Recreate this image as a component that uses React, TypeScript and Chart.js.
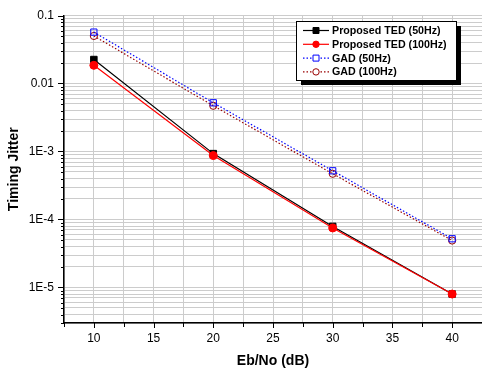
import React, { useEffect, useRef } from 'react';
import { Chart, registerables } from 'chart.js';

Chart.register(...registerables);

// ---- data ----
const snrDb = [10, 20, 30, 40];
const tedJitter50Hz = [0.0225, 9.3e-4, 7.9e-5, 8.0e-6];
const tedJitter100Hz = [0.0185, 8.7e-4, 7.5e-5, 8.0e-6];
const gadJitter50Hz = [0.057, 5.2e-3, 5.2e-4, 5.2e-5];
const gadJitter100Hz = [0.05, 4.7e-3, 4.7e-4, 4.9e-5];

const seriesLabels = ['Proposed TED (50Hz)', 'Proposed TED (100Hz)', 'GAD (50Hz)', 'GAD (100Hz)'];

const xTickValues = [10, 15, 20, 25, 30, 35, 40];
const xTickLabels = ['10', '15', '20', '25', '30', '35', '40'];
const yDecadeValues = [1e-5, 1e-4, 1e-3, 0.01, 0.1];
const yDecadeLabels = ['1E-5', '1E-4', '1E-3', '0.01', '0.1'];

const X_MIN = 7.5;
const X_MAX = 42.5;
const X_STEP = 2.5;
const Y_MIN = 3e-6;
const Y_MAX = 0.1;

const FONT = '"Liberation Sans", Arial, Helvetica, sans-serif';

function decadeIndex(v: number): number {
  for (let i = 0; i < yDecadeValues.length; i++) {
    if (Math.abs(Math.log10(v) - Math.log10(yDecadeValues[i])) < 1e-6) return i;
  }
  return -1;
}

function buildLogGrid(): number[] {
  const out: number[] = [];
  const e0 = Math.floor(Math.log10(Y_MIN));
  const e1 = Math.ceil(Math.log10(Y_MAX));
  for (let e = e0; e <= e1; e++) {
    for (let m = 1; m <= 9; m++) {
      const v = parseFloat((m * Math.pow(10, e)).toPrecision(6));
      if (v >= Y_MIN * 0.9999 && v <= Y_MAX * 1.0001) out.push(v);
    }
  }
  return out;
}

const styles = [
  { color: '#000000', point: 'rect', fill: true, dash: [] as number[], radius: 4.6 },
  { color: '#ff0000', point: 'circle', fill: true, dash: [] as number[], radius: 4 },
  { color: '#0000ff', point: 'rect', fill: false, dash: [1.5, 2], radius: 4.4 },
  { color: '#990000', point: 'circle', fill: false, dash: [1.5, 2], radius: 3.6 },
];

const axisTicksPlugin = {
  id: 'axisTicks',
  afterDraw(chart: any) {
    const { ctx, chartArea, scales } = chart;
    ctx.save();
    ctx.strokeStyle = '#000';
    ctx.lineWidth = 1;
    const ys = scales.y;
    ys.ticks.forEach((t: any) => {
      const py = Math.round(ys.getPixelForValue(t.value)) + 0.5;
      const len = decadeIndex(t.value) >= 0 ? 6 : 3;
      ctx.beginPath();
      ctx.moveTo(chartArea.left - len, py);
      ctx.lineTo(chartArea.left, py);
      ctx.stroke();
    });
    const xs = scales.x;
    xs.ticks.forEach((t: any) => {
      const px = Math.round(xs.getPixelForValue(t.value)) + 0.5;
      const len = xTickValues.indexOf(t.value) >= 0 ? 5 : 4;
      ctx.beginPath();
      ctx.moveTo(px, chartArea.bottom);
      ctx.lineTo(px, chartArea.bottom + len);
      ctx.stroke();
    });
    ctx.restore();
  },
};

const boxLegendPlugin = {
  id: 'boxLegend',
  afterDraw(chart: any) {
    const { ctx } = chart;
    const x0 = 296, y0 = 21, w = 160, h = 59, sh = 5;
    ctx.save();
    ctx.fillStyle = '#000';
    ctx.fillRect(x0 + sh, y0 + sh, w, h);
    ctx.fillStyle = '#fff';
    ctx.fillRect(x0, y0, w, h);
    ctx.strokeStyle = '#000';
    ctx.lineWidth = 1;
    ctx.strokeRect(x0 + 0.5, y0 + 0.5, w, h);
    chart.data.datasets.forEach((ds: any, i: number) => {
      const st = styles[i];
      const cy = 30.5 + i * 13.8;
      ctx.strokeStyle = st.color;
      ctx.lineWidth = 1.2;
      ctx.setLineDash(st.dash);
      ctx.beginPath();
      ctx.moveTo(303, cy);
      ctx.lineTo(329, cy);
      ctx.stroke();
      ctx.setLineDash([]);
      const mx = 316;
      ctx.beginPath();
      if (st.point === 'rect') {
        const s = 3;
        ctx.rect(mx - s, cy - s, 2 * s, 2 * s);
      } else {
        ctx.arc(mx, cy, 3.2, 0, Math.PI * 2);
      }
      ctx.fillStyle = st.fill ? st.color : '#fff';
      ctx.fill();
      ctx.lineWidth = 1;
      ctx.strokeStyle = st.color;
      ctx.stroke();
      ctx.fillStyle = '#000';
      ctx.font = `bold 10.7px ${FONT}`;
      ctx.textBaseline = 'middle';
      ctx.textAlign = 'left';
      ctx.fillText(ds.label, 332, cy + 0.5);
    });
    ctx.restore();
  },
};

export default function App() {
  const ref = useRef<HTMLCanvasElement>(null);

  useEffect(() => {
    const series = [tedJitter50Hz, tedJitter100Hz, gadJitter50Hz, gadJitter100Hz];
    const orders = [1, 0, 2, 3];
    const yGrid = buildLogGrid();
    const chart = new Chart(ref.current as HTMLCanvasElement, {
      type: 'line',
      data: {
        datasets: series.map((arr, i) => ({
          label: seriesLabels[i],
          data: snrDb.map((x, k) => ({ x, y: arr[k] })),
          borderColor: styles[i].color,
          backgroundColor: styles[i].fill ? styles[i].color : '#ffffff',
          borderWidth: 1.2,
          borderDash: styles[i].dash,
          pointStyle: styles[i].point as any,
          pointRadius: styles[i].radius,
          pointBorderWidth: 1,
          pointBorderColor: styles[i].color,
          pointBackgroundColor: styles[i].fill ? styles[i].color : 'rgba(255,255,255,0)',
          tension: 0,
          fill: false,
          order: orders[i],
        })),
      },
      options: {
        animation: false,
        responsive: false,
        devicePixelRatio: 1,
        layout: { autoPadding: false, padding: { top: 15.5, left: 0, right: 0, bottom: 0 } },
        plugins: {
          legend: { display: false },
          tooltip: { enabled: false },
        },
        scales: {
          x: {
            type: 'linear',
            min: X_MIN,
            max: X_MAX,
            afterFit: (s: any) => {
              s.height = 47;
              s.paddingLeft = 0;
              s.paddingRight = 0;
            },
            ticks: {
              stepSize: X_STEP,
              autoSkip: false,
              maxRotation: 0,
              padding: 8,
              color: '#000',
              font: { family: FONT, size: 12 },
              callback: (v: any) => {
                const i = xTickValues.indexOf(Number(v));
                return i >= 0 ? xTickLabels[i] : '';
              },
            },
            grid: { color: '#cccccc', lineWidth: 1, drawTicks: false },
            border: { display: true, color: '#000', width: 1.5 },
            title: {
              display: true,
              text: 'Eb/No (dB)',
              color: '#000',
              font: { family: FONT, size: 14, weight: 'bold' },
              padding: { top: 0, bottom: 0 },
            },
          },
          y: {
            type: 'logarithmic',
            min: Y_MIN,
            max: Y_MAX,
            afterBuildTicks: (s: any) => {
              s.ticks = yGrid.map((v) => ({ value: v }));
            },
            afterFit: (s: any) => {
              s.width = 64;
              s.paddingTop = 0;
              s.paddingBottom = 0;
            },
            ticks: {
              autoSkip: false,
              padding: 10,
              color: '#000',
              font: { family: FONT, size: 12 },
              callback: (v: any) => {
                const i = decadeIndex(Number(v));
                return i >= 0 ? yDecadeLabels[i] : '';
              },
            },
            grid: { color: '#cccccc', lineWidth: 1, drawTicks: false },
            border: { display: true, color: '#000', width: 1.5 },
            title: {
              display: true,
              text: 'Timing Jitter',
              color: '#000',
              font: { family: FONT, size: 14, weight: 'bold' },
              padding: { top: 6, bottom: 0 },
            },
          },
        },
      } as any,
      plugins: [axisTicksPlugin, boxLegendPlugin],
    });
    return () => chart.destroy();
  }, []);

  return (
    <div style={{ position: 'absolute', left: 0, top: 0, width: 482, height: 370, background: '#fff' }}>
      <canvas ref={ref} width={482} height={370} style={{ display: 'block', width: 482, height: 370 }} />
    </div>
  );
}
